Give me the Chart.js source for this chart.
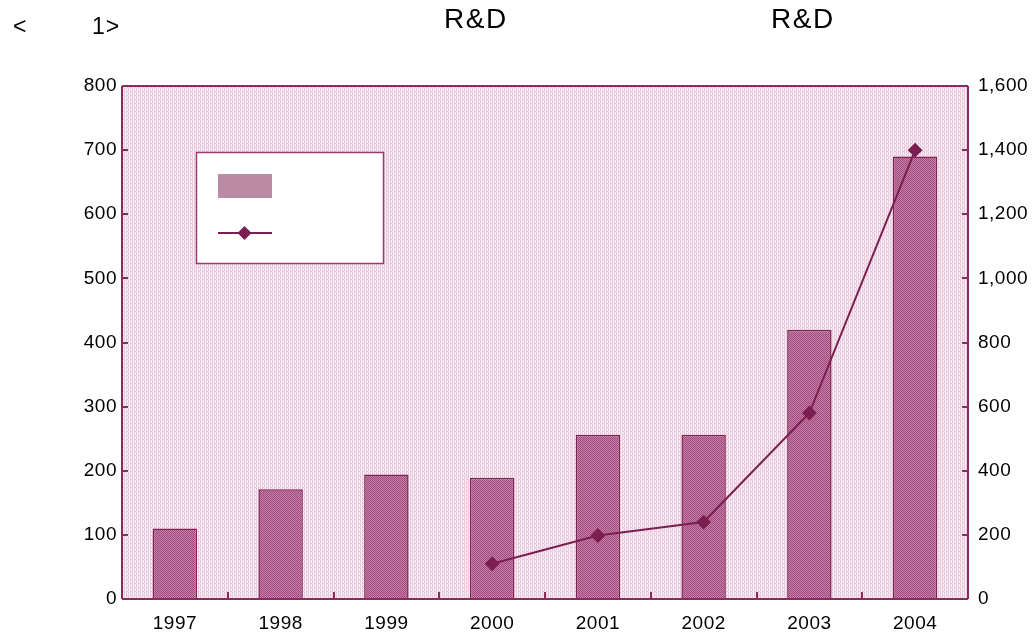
<!DOCTYPE html>
<html><head><meta charset="utf-8">
<script src="https://cdn.jsdelivr.net/npm/chart.js@4/dist/chart.umd.min.js"></script>
<style>
html,body{margin:0;padding:0;background:#fff;}
#wrap{position:relative;width:1034px;height:640px;}
.t{position:absolute;font-family:"Liberation Sans",Arial,sans-serif;font-size:23px;line-height:27px;color:#000;letter-spacing:1px;}
</style></head>
<body>
<div id="wrap">
<canvas id="c" width="1034" height="640"></canvas>
<div class="t" style="left:13px;top:13px">&lt;</div>
<div class="t" style="left:92px;top:13px">1&gt;</div>
<div class="t" style="left:444px;top:5px;font-size:28px;letter-spacing:1.5px">R&amp;D</div>
<div class="t" style="left:771px;top:5px;font-size:28px;letter-spacing:1.5px">R&amp;D</div>
</div>
<script>
const categories = ['1997','1998','1999','2000','2001','2002','2003','2004'];
const barValues = [110, 171, 194, 189, 256, 256, 420, 690];
const lineValues = [null, null, null, 110, 198, 240, 580, 1400];
const leftTicks = [0,100,200,300,400,500,600,700,800];
const rightTicks = [0,200,400,600,800,1000,1200,1400,1600];

function makePattern(colors){
  const n = colors.length;
  const cv = document.createElement('canvas');
  cv.width = n; cv.height = n;
  const g = cv.getContext('2d');
  for(let y=0;y<n;y++) for(let x=0;x<n;x++){
    g.fillStyle = colors[y][x]; g.fillRect(x,y,1,1);
  }
  return g.createPattern(cv,'repeat');
}
const ctx = document.getElementById('c').getContext('2d');
const P='#f3c4dd', W='#f7edf5', G='#d8d1d8', L='#eadbe6';
const bgPat = makePattern([
  [P,W,P,W],
  [G,W,L,W],
  [P,W,P,W],
  [L,W,G,P]
]);
const A='#a84a82', B='#c47ea6', C='#98527e';
const barPat = makePattern([
  [A,B,A,B],
  [B,C,B,A],
  [A,B,A,B],
  [B,A,B,C]
]);
const AXIS = '#8a2a5e';

const deco = {
  id:'deco',
  beforeInit(chart){ chart.ctx.letterSpacing = '0.5px'; },
  beforeDraw(chart){ chart.ctx.letterSpacing = '0.5px'; },
  beforeDatasetsDraw(chart){
    const a = chart.chartArea, c = chart.ctx;
    c.save();
    c.fillStyle = bgPat;
    c.fillRect(a.left,a.top,a.right-a.left,a.bottom-a.top);
    c.restore();
  },
  afterDatasetsDraw(chart){
    const a = chart.chartArea, c = chart.ctx;
    c.save();
    c.strokeStyle = AXIS; c.lineWidth = 2;
    c.beginPath();
    c.moveTo(a.left,a.top); c.lineTo(a.right,a.top);
    c.moveTo(a.left,a.top); c.lineTo(a.left,a.bottom);
    c.moveTo(a.right,a.top); c.lineTo(a.right,a.bottom);
    c.moveTo(a.left,a.bottom); c.lineTo(a.right,a.bottom);
    c.stroke();
    const y = chart.scales.y, y2 = chart.scales.y2, x = chart.scales.x;
    c.beginPath();
    leftTicks.forEach(v=>{ const p = Math.round(y.getPixelForValue(v)); c.moveTo(a.left,p); c.lineTo(a.left+6,p); });
    rightTicks.forEach(v=>{ const p = Math.round(y2.getPixelForValue(v)); c.moveTo(a.right,p); c.lineTo(a.right-6,p); });
    for(let i=1;i<categories.length;i++){ const p = Math.round(x.getPixelForValue(i-0.5)); c.moveTo(p,a.bottom); c.lineTo(p,a.bottom-7); }
    c.stroke();
    c.fillStyle = '#ffffff';
    c.fillRect(196,152,187,111);
    c.strokeStyle = '#9a3a6e'; c.lineWidth = 1.5;
    c.strokeRect(196.5,152.5,187,111);
    c.fillStyle = '#bb8aa3';
    c.fillRect(218,174,54,24);
    c.strokeStyle = '#7a1f4f'; c.lineWidth = 2;
    c.beginPath(); c.moveTo(218,233); c.lineTo(272,233); c.stroke();
    c.fillStyle = '#7a1f4f';
    c.beginPath(); c.moveTo(244.5,226); c.lineTo(251.5,233); c.lineTo(244.5,240); c.lineTo(237.5,233); c.closePath(); c.fill();
    c.restore();
  }
};

new Chart(ctx,{
  data:{
    labels: categories,
    datasets:[
      {type:'line', data: lineValues, yAxisID:'y2', borderColor:'#7a1f4f', backgroundColor:'#7a1f4f',
       borderWidth:2, pointStyle:'rectRot', pointRadius:6, pointHoverRadius:6, order:0},
      {type:'bar', data: barValues, yAxisID:'y', backgroundColor: barPat, borderColor:'#7e2452', borderWidth:1.5,
       categoryPercentage:1, barPercentage:0.42, order:1}
    ]
  },
  options:{
    responsive:false, animation:false,
    layout:{padding:{top:86,left:0,right:0,bottom:0}},
    plugins:{legend:{display:false}, tooltip:{enabled:false}},
    scales:{
      x:{offset:true, grid:{display:false, drawTicks:false}, border:{display:false},
         ticks:{color:'#000', font:{family:'Liberation Sans', size:19}, padding:13},
         afterFit(s){ s.height = 41; }},
      y:{position:'left', min:0, max:800, grid:{display:false, drawTicks:false}, border:{display:false},
         afterBuildTicks(s){ s.ticks = leftTicks.map(v=>({value:v})); },
         ticks:{color:'#000', font:{family:'Liberation Sans', size:19}, padding:5},
         afterFit(s){ s.width = 122; }},
      y2:{position:'right', min:0, max:1600, grid:{display:false, drawTicks:false}, border:{display:false},
         afterBuildTicks(s){ s.ticks = rightTicks.map(v=>({value:v})); },
         ticks:{color:'#000', font:{family:'Liberation Sans', size:19}, padding:10,
           callback:v=>v.toLocaleString('en-US')},
         afterFit(s){ s.width = 66; }}
    }
  },
  plugins:[deco]
});
</script>
</body></html>
